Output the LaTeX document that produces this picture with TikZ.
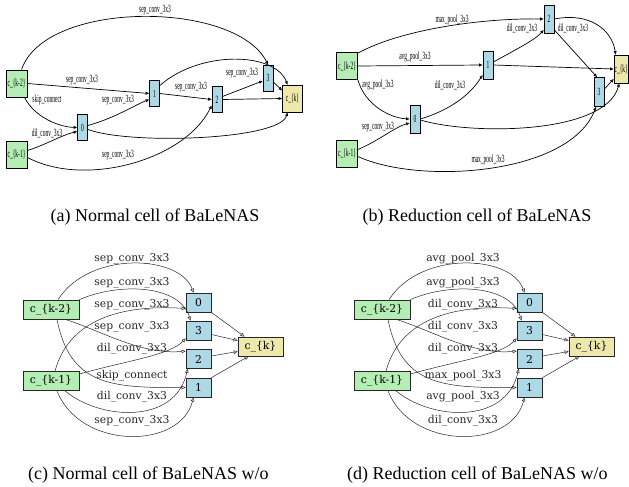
\documentclass[tikz,border=0pt]{standalone}
\usepackage{fontspec}
\usepackage{graphicx}
\setmainfont{Liberation Serif}
\newfontfamily\dvs{DejaVu Serif}
\usetikzlibrary{arrows.meta}
\definecolor{inc}{RGB}{180,238,180}
\definecolor{midc}{RGB}{173,216,230}
\definecolor{outc}{RGB}{238,232,170}
\newcommand{\sq}[1]{\scalebox{0.5}[1]{#1}}
\tikzset{
  nA/.style={draw=black, line width=0.8pt, inner sep=0pt, font=\fontsize{11}{11}\selectfont},
  inA/.style={nA, fill=inc, minimum width=21pt, minimum height=27pt},
  midA/.style={nA, fill=midc, minimum width=10pt, minimum height=26pt},
  outA/.style={nA, fill=outc, minimum width=20pt, minimum height=27pt},
  eA/.style={-{Triangle[open,length=3.5pt,width=3pt]}, line width=0.7pt, black},
  lA/.style={inner sep=0pt, font=\fontsize{11}{11}\selectfont},
  nC/.style={draw=black!85, line width=0.7pt, inner sep=0pt, minimum height=19pt, font=\dvs\fontsize{10.8}{11}\selectfont},
  inC/.style={nC, fill=inc, minimum width=56pt},
  midC/.style={nC, fill=midc, minimum width=25pt},
  outC/.style={nC, fill=outc, minimum width=45pt},
  eC/.style={-{Triangle[open,length=4pt,width=3.5pt]}, line width=0.5pt, black!85},
  lC/.style={inner sep=0pt, text=black!85, font=\dvs\fontsize{10.8}{11}\selectfont},
  capt/.style={inner sep=0pt, font=\fontsize{18}{20}\selectfont}
}
\newcommand{\cellcd}[9]{%
  \node[inC] (#1k2) at (51,309.5) {c\_\{k-2\}};
  \node[inC] (#1k1) at (51,381) {c\_\{k-1\}};
  \node[midC] (#10) at (198.5,302.5) {0};
  \node[midC] (#13) at (198.5,330.5) {3};
  \node[midC] (#12) at (198.5,359) {2};
  \node[midC] (#11) at (198.5,387.5) {1};
  \node[outC] (#1k) at (260.5,346.5) {c\_\{k\}};
  \draw[eC] ([xshift=7pt]#1k2.north) .. controls (90,250) and (180,255) .. ([xshift=-5pt]#10.north);
  \draw[eC] (#1k2.north east) .. controls (120,282) and (180,285) .. ([xshift=-8pt]#13.north);
  \draw[eC] ([xshift=4pt]#1k1.north) .. controls (70,315) and (130,305) .. ([yshift=-6pt]#10.west);
  \draw[eC] ([xshift=14pt]#1k2.south) .. controls (100,330) and (140,355) .. ([yshift=-2pt]#12.north west);
  \draw[eC] ([yshift=7pt]#1k1.east) .. controls (130,360) and (170,355) .. ([yshift=2pt]#13.south west);
  \draw[eC] ([xshift=6pt]#1k2.south) .. controls (70,385) and (110,388) .. (#11.west);
  \draw[eC] ([xshift=14pt]#1k1.south) .. controls (100,420) and (175,425) .. ([xshift=2pt]#12.south west);
  \draw[eC] ([xshift=6pt]#1k1.south) .. controls (80,450) and (180,450) .. ([xshift=-5pt]#11.south);
  \draw[eC] (#10.south east) -- ([xshift=-16pt]#1k.north);
  \draw[eC] ([yshift=-4pt]#13.east) -- ([yshift=6pt]#1k.west);
  \draw[eC] ([yshift=3pt]#12.east) -- ([yshift=-5pt]#1k.west);
  \draw[eC] (#11.north east) -- ([xshift=-12pt]#1k.south);
  \node[lC] (#1l1) at (132,259) {#2};
  \node[lC] (#1l2) at (132,283) {#3};
  \node[lC] (#1l3) at (132,305) {#4};
  \node[lC] (#1l4) at (132,327) {#5};
  \node[lC] (#1l5) at (132,349) {#6};
  \node[lC] (#1l6) at (132,376) {#7};
  \node[lC] (#1l7) at (132,397) {#8};
  \node[lC] (#1l8) at (132,421) {#9};
}
\begin{document}
\begin{tikzpicture}[x=1pt,y=-1pt]
\useasboundingbox (0,0) rectangle (629,487);
\clip (0,0) rectangle (629,487);
% ---------- (a)
\node[inA] (ak2) at (16.5,83.5) {\sq{c\_\{k-2\}}};
\node[inA] (ak1) at (16.5,154.5) {\sq{c\_\{k-1\}}};
\node[midA] (a0) at (82.5,127.5) {\sq{0}};
\node[midA] (a1) at (154.5,93.5) {\sq{1}};
\node[midA] (a2) at (217,99.5) {\sq{2}};
\node[midA] (a3) at (268,78) {\sq{3}};
\node[outA] (ak) at (292.5,98.5) {\sq{c\_\{k\}}};
\draw[eA] (ak2.70) .. controls (45,0) and (235,0) .. (a3.north);
\draw[eA] (ak2.east) -- (a1.west);
\draw[eA] (ak2.-60) .. controls (35,118) and (60,127) .. (a0.west);
\draw[eA] (ak1.20) .. controls (45,145) and (62,135) .. ([yshift=-4pt]a0.west);
\draw[eA] ([yshift=2pt]a0.east) .. controls (115,118) and (135,105) .. ([yshift=-6pt]a1.west);
\draw[eA] (ak1.-15) .. controls (85,188) and (185,160) .. ([yshift=-6pt]a2.west);
\draw[eA] (a1.east) -- (a2.west);
\draw[eA] ([yshift=3pt]a2.east) -- ([yshift=-3pt]a3.west);
\draw[eA] ([yshift=8pt]a1.east) .. controls (200,50) and (275,52) .. ([xshift=-5pt]ak.north);
\draw[eA] ([yshift=-4pt]a3.east) -- ([yshift=8pt]ak.west);
\draw[eA] (a2.east) -- (ak.west);
\draw[eA] ([yshift=-2pt]a0.east) .. controls (130,145) and (280,140) .. ([xshift=-5pt]ak.south);
\node[lA] (la1) at (155,10) {\sq{sep\_conv\_3x3}};
\node[lA] (la2) at (82,80) {\sq{sep\_conv\_3x3}};
\node[lA] (la3) at (47,100) {\sq{skip\_connect}};
\node[lA] (la4) at (47,133) {\sq{dil\_conv\_3x3}};
\node[lA] (la5) at (118,100) {\sq{sep\_conv\_3x3}};
\node[lA] (la6) at (118,155) {\sq{sep\_conv\_3x3}};
\node[lA] (la7) at (191,87) {\sq{sep\_conv\_3x3}};
\node[lA] (la8) at (242,73) {\sq{sep\_conv\_3x3}};
% ---------- (b)
\node[inA] (bk2) at (347,66) {\sq{c\_\{k-2\}}};
\node[inA] (bk1) at (347,153.5) {\sq{c\_\{k-1\}}};
\node[midA, minimum height=28pt] (b0) at (415,119) {\sq{0}};
\node[midA, minimum height=28pt] (b1) at (488,65) {\sq{1}};
\node[midA, minimum height=28pt] (b2) at (549,19) {\sq{2}};
\node[midA, minimum height=29pt] (b3) at (599,92) {\sq{3}};
\node[outA, minimum height=28pt, minimum width=14.5pt] (bk) at (621.25,69) {\sq{c\_\{k\}}};
\draw[eA] ([yshift=-1pt]bk2.north east) .. controls (400,30) and (480,18) .. (b2.west);
\draw[eA] (bk2.east) -- (b1.west);
\draw[eA] (bk2.south east) .. controls (365,105) and (390,118) .. (b0.west);
\draw[eA] ([yshift=4pt]bk1.east) .. controls (380,140) and (395,127) .. ([yshift=-4pt]b0.west);
\draw[eA] (b0.east) .. controls (450,110) and (470,95) .. ([yshift=-10pt]b1.west);
\draw[eA] ([yshift=3pt]b1.east) .. controls (515,50) and (535,40) .. ([yshift=-11pt]b2.west);
\draw[eA] ([yshift=-11pt]b2.east) -- ([xshift=-2pt]b3.north);
\draw[eA] (b2.east) .. controls (590,12) and (612,30) .. ([xshift=2pt]bk.north west);
\draw[eA] (b1.east) -- (bk.west);
\draw[eA] ([yshift=3pt]b3.east) -- ([yshift=-10pt]bk.west);
\draw[eA] ([yshift=-1pt]b0.east) .. controls (470,135) and (605,135) .. ([xshift=-2pt]bk.south);
\draw[eA] ([yshift=-3pt]bk1.east) .. controls (420,185) and (570,175) .. ([xshift=-3pt]b3.south);
\node[lA] (lb1) at (452,20) {\sq{max\_pool\_3x3}};
\node[lA] (lb2) at (415,57) {\sq{avg\_pool\_3x3}};
\node[lA] (lb3) at (378,85) {\sq{avg\_pool\_3x3}};
\node[lA] (lb4) at (378,127) {\sq{sep\_conv\_3x3}};
\node[lA] (lb5) at (450,85) {\sq{dil\_conv\_3x3}};
\node[lA] (lb6) at (522,28) {\sq{dil\_conv\_3x3}};
\node[lA] (lb7) at (573,28) {\sq{dil\_conv\_3x3}};
\node[lA] (lb8) at (488,160) {\sq{max\_pool\_3x3}};
% ---------- (c)
\cellcd{c}{sep\_conv\_3x3}{sep\_conv\_3x3}{sep\_conv\_3x3}{sep\_conv\_3x3}{dil\_conv\_3x3}{skip\_connect}{dil\_conv\_3x3}{sep\_conv\_3x3}
% ---------- (d)
\begin{scope}[xshift=331pt]
\cellcd{d}{avg\_pool\_3x3}{avg\_pool\_3x3}{dil\_conv\_3x3}{dil\_conv\_3x3}{dil\_conv\_3x3}{max\_pool\_3x3}{avg\_pool\_3x3}{dil\_conv\_3x3}
\end{scope}
% ---------- captions
\node[capt] (capa) at (155,217.5) {(a) Normal cell of BaLeNAS};
\node[capt] (capb) at (477,217.5) {(b) Reduction cell of BaLeNAS};
\node[capt, anchor=west] (capc) at (28,475.5) {(c) Normal cell of BaLeNAS w/o};
\node[capt, anchor=west] (capd) at (347,475.5) {(d) Reduction cell of BaLeNAS w/o};
\end{tikzpicture}
\end{document}
